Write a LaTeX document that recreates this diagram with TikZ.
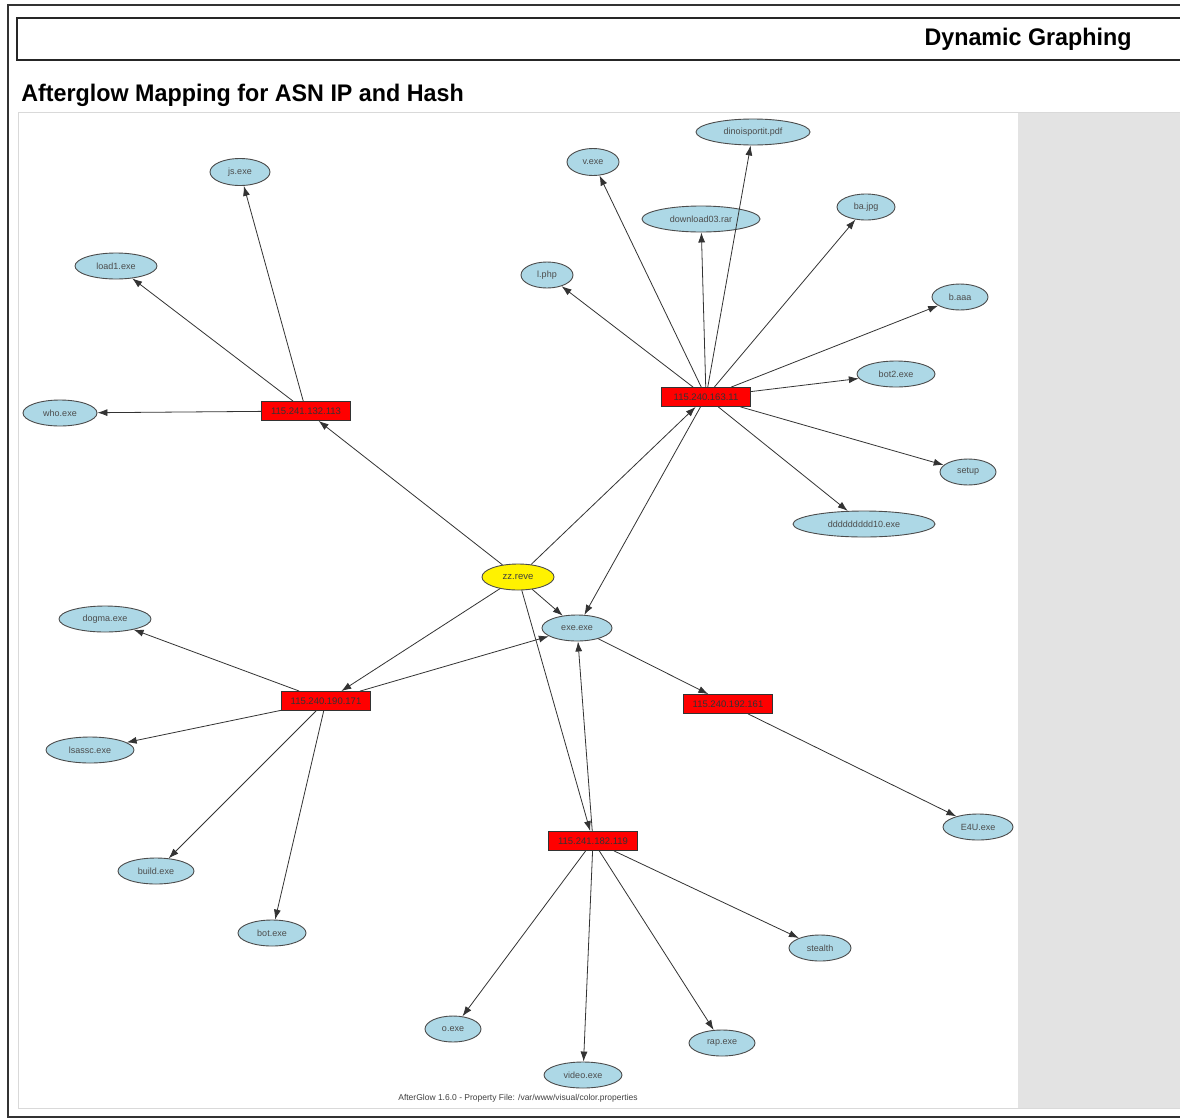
\documentclass[tikz,border=0pt]{standalone}
\usepackage{fontspec}
\setmainfont{Liberation Sans}
\usetikzlibrary{shapes.geometric,arrows.meta}
\begin{document}
\begin{tikzpicture}[x=1pt,y=-1pt,
  leaf/.style={ellipse,draw=black!70,fill={rgb,255:red,173;green,216;blue,230},line width=0.9pt,inner sep=0pt,font=\fontsize{9}{10}\selectfont,text=black!70},
  ipnode/.style={rectangle,draw=black!80,fill=red,line width=0.8pt,inner sep=0pt,minimum width=89pt,minimum height=19pt,font=\fontsize{9.5}{10}\selectfont,text=black!80},
  srcnode/.style={ellipse,draw=black!70,fill=yellow,line width=0.9pt,inner sep=0pt,minimum width=72pt,minimum height=26pt,font=\fontsize{9.5}{10}\selectfont,text=black!75},
  edge/.style={draw=black!80,line width=0.8pt,-{Latex[length=10pt,width=7pt]}}
]
\useasboundingbox (0,0) rectangle (1180,1119);
% page frame
\draw[black!80,line width=1.2pt] (1185,5) -- (8,5) -- (8,1117) -- (1185,1117);
% header box
\draw[black!85,line width=1.6pt,fill=white] (1190,18) -- (17,18) -- (17,60) -- (1190,60);
\node[font=\bfseries\fontsize{24}{28}\selectfont,xscale=0.97] (hdr) at (1028,39) {Dynamic Graphing};
\node[font=\bfseries\fontsize{24}{28}\selectfont,xscale=0.97,anchor=west] (ttl) at (18,95) {Afterglow Mapping for ASN IP and Hash};
% graph area
\fill[white] (18,112) rectangle (1018,1108);
\fill[gray!22] (1018,112) rectangle (1182,1108);
\draw[black!15,line width=1pt] (1182,112) -- (18,112) -- (18,1108) -- (1182,1108);

% nodes
\node[srcnode] (src) at (518,577) {zz.reve};

\node[ipnode] (a) at (306,411) {115.241.132.113};
\node[ipnode] (b) at (706,397) {115.240.163.11};
\node[ipnode] (c) at (326,701) {115.240.190.171};
\node[ipnode] (d) at (728,704) {115.240.192.161};
\node[ipnode] (e) at (593,841) {115.241.182.119};

\node[leaf,minimum width=60pt,minimum height=27pt] (js) at (240,172) {js.exe};
\node[leaf,minimum width=82pt,minimum height=26pt] (load1) at (116,266) {load1.exe};
\node[leaf,minimum width=74pt,minimum height=26pt] (who) at (60,413) {who.exe};

\node[leaf,minimum width=52pt,minimum height=27pt] (v) at (593,162) {v.exe};
\node[leaf,minimum width=114pt,minimum height=26pt] (dino) at (753,132) {dinoisportit.pdf};
\node[leaf,minimum width=118pt,minimum height=26pt] (dl) at (701,219) {download03.rar};
\node[leaf,minimum width=58pt,minimum height=26pt] (ba) at (866,207) {ba.jpg};
\node[leaf,minimum width=52pt,minimum height=26pt] (lphp) at (547,275) {l.php};
\node[leaf,minimum width=56pt,minimum height=26pt] (baaa) at (960,297) {b.aaa};
\node[leaf,minimum width=78pt,minimum height=26pt] (bot2) at (896,374) {bot2.exe};
\node[leaf,minimum width=56pt,minimum height=26pt] (setup) at (968,472) {setup};
\node[leaf,minimum width=142pt,minimum height=26pt] (ddd) at (864,524) {ddddddddd10.exe};

\node[leaf,minimum width=70pt,minimum height=26pt] (exe) at (577,628) {exe.exe};
\node[leaf,minimum width=92pt,minimum height=26pt] (dogma) at (105,619) {dogma.exe};
\node[leaf,minimum width=88pt,minimum height=26pt] (lsassc) at (90,750) {lsassc.exe};
\node[leaf,minimum width=70pt,minimum height=26pt] (e4u) at (978,827) {E4U.exe};
\node[leaf,minimum width=76pt,minimum height=26pt] (build) at (156,871) {build.exe};
\node[leaf,minimum width=68pt,minimum height=26pt] (bot) at (272,933) {bot.exe};
\node[leaf,minimum width=62pt,minimum height=26pt] (stealth) at (820,948) {stealth};
\node[leaf,minimum width=56pt,minimum height=26pt] (oexe) at (453,1029) {o.exe};
\node[leaf,minimum width=78pt,minimum height=26pt] (video) at (583,1075) {video.exe};
\node[leaf,minimum width=66pt,minimum height=26pt] (rap) at (722,1043) {rap.exe};

\node[font=\fontsize{8.5}{9}\selectfont,text=black!75] (foot) at (518,1098) {AfterGlow 1.6.0 - Property File: /var/www/visual/color.properties};

% edges
\draw[edge] (src) -- (a);
\draw[edge] (src) -- (b);
\draw[edge] (src) -- (c);
\draw[edge] (src) -- (e);
\draw[edge] (src) -- (exe);

\draw[edge] (a) -- (js);
\draw[edge] (a) -- (load1);
\draw[edge] (a) -- (who);

\draw[edge] (b) -- (v);
\draw[edge] (b) -- (dino);
\draw[edge] (b) -- (dl);
\draw[edge] (b) -- (ba);
\draw[edge] (b) -- (lphp);
\draw[edge] (b) -- (baaa);
\draw[edge] (b) -- (bot2);
\draw[edge] (b) -- (setup);
\draw[edge] (b) -- (ddd);
\draw[edge] (b) -- (exe);

\draw[edge] (c) -- (exe);
\draw[edge] (c) -- (dogma);
\draw[edge] (c) -- (lsassc);
\draw[edge] (c) -- (build);
\draw[edge] (c) -- (bot);

\draw[edge] (exe) -- (d);
\draw[edge] (d) -- (e4u);

\draw[edge] (e) -- (exe);
\draw[edge] (e) -- (stealth);
\draw[edge] (e) -- (oexe);
\draw[edge] (e) -- (video);
\draw[edge] (e) -- (rap);
\end{tikzpicture}
\end{document}
